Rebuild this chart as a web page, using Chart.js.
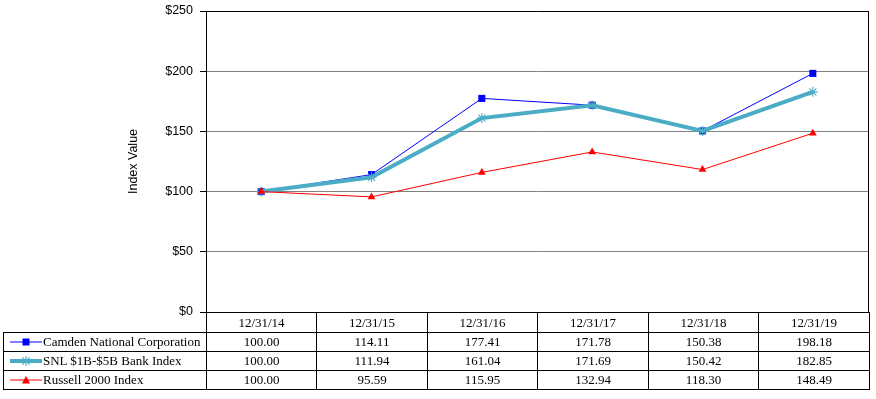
<!DOCTYPE html>
<html><head><meta charset="utf-8">
<script src="https://cdn.jsdelivr.net/npm/chart.js@4/dist/chart.umd.min.js"></script>
<style>
html,body{margin:0;padding:0;background:#fff}
body{width:876px;height:399px;overflow:hidden;position:relative}
#wrap{position:absolute;left:0;top:0;width:876px;height:320px}
#tbl{position:absolute;left:3px;top:312px;border-collapse:collapse;table-layout:fixed;font-family:'Liberation Serif','Times New Roman',serif;font-size:13px;color:#000}
#tbl td{border:1px solid #000;padding:0;text-align:center;height:18px;line-height:18px;white-space:nowrap;overflow:hidden}
#tbl td.lg{text-align:left}
#tbl td.blank{border:none}
#tbl svg{vertical-align:middle;margin-left:6px;margin-right:1px;position:relative;top:-1px}
</style></head>
<body>
<div id="wrap"><canvas id="c" width="876" height="320"></canvas></div>
<table id="tbl"></table>
<script>
const categories = ['12/31/14','12/31/15','12/31/16','12/31/17','12/31/18','12/31/19'];
const seriesNames = ['Camden National Corporation','SNL $1B-$5B Bank Index','Russell 2000 Index'];
const camden = [100.00,114.11,177.41,171.78,150.38,198.18];
const snl = [100.00,111.94,161.04,171.69,150.42,182.85];
const russell = [100.00,95.59,115.95,132.94,118.30,148.49];
const yTickValues = [0,50,100,150,200,250];
const yAxisTitle = 'Index Value';

const colors = ['#0000FF','#4BACC6','#FF0000'];
const allSeries = [camden, snl, russell];

const borderPlugin = {
  id:'border',
  afterDraw(chart){
    const {ctx, chartArea:a} = chart;
    ctx.save();
    ctx.strokeStyle='#000'; ctx.lineWidth=1;
    ctx.beginPath();
    ctx.moveTo(Math.round(a.right)+0.5, a.top);
    ctx.lineTo(Math.round(a.right)+0.5, a.bottom);
    ctx.stroke();
    ctx.restore();
  }
};

new Chart(document.getElementById('c'), {
  type:'line',
  data:{
    labels: categories,
    datasets:[
      {label:seriesNames[0], data:camden, borderColor:colors[0], backgroundColor:colors[0], borderWidth:1,
       pointStyle:'rect', pointRadius:5, pointBorderWidth:0, order:3, tension:0},
      {label:seriesNames[1], data:snl, borderColor:colors[1], backgroundColor:colors[1], borderWidth:4,
       pointStyle:'star', pointRadius:5, pointBorderWidth:1.1, pointBorderColor:colors[1], order:2, tension:0},
      {label:seriesNames[2], data:russell, borderColor:colors[2], backgroundColor:colors[2], borderWidth:1,
       pointStyle:'triangle', pointRadius:4.5, pointBorderWidth:0, order:1, tension:0}
    ]
  },
  options:{
    responsive:false, animation:false, devicePixelRatio:1,
    layout:{padding:{top:11,right:8,bottom:8,left:0}},
    plugins:{legend:{display:false}, tooltip:{enabled:false}},
    scales:{
      x:{type:'category', offset:true, display:false},
      y:{
        min:0, max:250,
        afterFit(s){ s.width = 206; s.paddingTop = 0; s.paddingBottom = 0; },
        afterBuildTicks(s){ s.ticks = yTickValues.map(v=>({value:v})); },
        ticks:{callback:v=>'$'+v, color:'#000', padding:7,
          font:{family:"'Liberation Sans', Arial, sans-serif", size:12.5}},
        grid:{color:c=>(c.tick && (c.tick.value===250||c.tick.value===0))?'#000':'#808080',
          tickColor:'#000', tickLength:6, lineWidth:1},
        border:{color:'#000', width:1},
        title:{display:true, text:yAxisTitle, color:'#000', padding:{top:126,bottom:0},
          font:{family:"'Liberation Sans', Arial, sans-serif", size:12.5}}
      }
    }
  },
  plugins:[borderPlugin]
});

// data table
function legendIcon(i){
  const c = colors[i];
  let line = i===1 ? `<line x1="0" y1="5" x2="32" y2="5" stroke="${c}" stroke-width="4"/>` :
                     `<line x1="0" y1="5" x2="32" y2="5" stroke="${c}" stroke-width="1"/>`;
  let mk = '';
  if(i===0) mk = `<rect x="12.5" y="1.5" width="7" height="7" fill="${c}"/>`;
  if(i===1) mk = `<g stroke="${c}" stroke-width="1.1"><line x1="16" y1="0" x2="16" y2="10"/><line x1="11" y1="5" x2="21" y2="5"/><line x1="12.5" y1="1.5" x2="19.5" y2="8.5"/><line x1="12.5" y1="8.5" x2="19.5" y2="1.5"/></g>`;
  if(i===2) mk = `<polygon points="16,1 20,8.5 12,8.5" fill="${c}"/>`;
  return `<svg width="32" height="10" viewBox="0 0 32 10" overflow="visible">${line}${mk}</svg>`;
}
const tbl = document.getElementById('tbl');
let html = '<colgroup><col style="width:203px">' + categories.map((_,k)=>`<col style="width:${k%2?111:110}px">`).join('') + '</colgroup>';
html += '<tr style="height:20px"><td class="blank"></td>' + categories.map(c=>`<td>${c}</td>`).join('') + '</tr>';
allSeries.forEach((s,i)=>{
  html += `<tr style="height:19px"><td class="lg">${legendIcon(i)}${seriesNames[i]}</td>` + s.map(v=>`<td>${v.toFixed(2)}</td>`).join('') + '</tr>';
});
tbl.innerHTML = html;
</script>
</body></html>
